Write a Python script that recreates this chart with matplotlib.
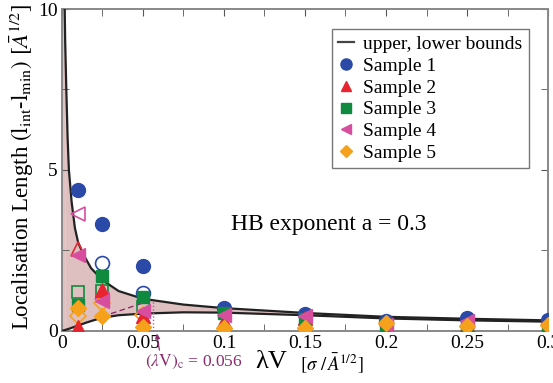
import matplotlib
matplotlib.use("Agg")
import matplotlib.pyplot as plt
from matplotlib.lines import Line2D

plt.rcParams["font.family"] = ["Liberation Serif", "DejaVu Serif"]
plt.rcParams["mathtext.fontset"] = "stix"

# Theoretical bounds on the localisation length
upper_x = [0.0017, 0.002, 0.0027, 0.0035, 0.0043, 0.006, 0.008, 0.01, 0.013,
           0.018, 0.025, 0.035, 0.05, 0.075, 0.1, 0.15, 0.2, 0.25, 0.3]
upper_y = [10.0, 9.0, 7.5, 6.0, 5.0, 4.0, 3.2, 2.75, 2.4,
           1.95, 1.58, 1.24, 1.0, 0.82, 0.71, 0.56, 0.44, 0.38, 0.33]
lower_x = [0.0, 0.005, 0.01, 0.015, 0.02, 0.025, 0.035, 0.05, 0.075,
           0.1, 0.15, 0.2, 0.25, 0.3]
lower_y = [0.0, 0.08, 0.17, 0.26, 0.34, 0.41, 0.49, 0.54, 0.58,
           0.57, 0.49, 0.39, 0.33, 0.29]

# Critical coupling
lv_crit = 0.056
crit_line_x = [0.025, 0.056]
crit_line_y = [0.45, 0.97]

# Samples (filled markers)
lam_v = [0.01, 0.025, 0.05, 0.1, 0.15, 0.2, 0.25, 0.3]
sample1 = [4.38, 3.32, 2.03, 0.70, 0.52, 0.30, 0.40, 0.35]
sample2 = [0.12, 1.28, 0.45, 0.30, 0.40, 0.12, 0.20, 0.15]
sample3 = [0.80, 1.70, 1.05, 0.56, 0.36, 0.15, 0.10, 0.05]
sample4 = [2.36, 0.93, 0.62, 0.50, 0.45, 0.20, 0.30, 0.25]
sample5 = [0.70, 0.47, 0.12, 0.08, 0.08, 0.25, 0.15, 0.20]

# Open markers
open1_x, open1_y = [0.025, 0.05], [2.12, 1.18]
open2_x, open2_y = [0.01], [2.55]
open3_x, open3_y = [0.01, 0.025, 0.05], [1.21, 1.25, 0.75]
open4_x, open4_y = [0.01, 0.025], [3.63, 1.0]
open5_x, open5_y = [0.01, 0.025, 0.05], [0.48, 0.87, 0.50]

labels = ["Sample 1", "Sample 2", "Sample 3", "Sample 4", "Sample 5"]
colors = ["#2b4aa8", "#e8242e", "#108a3e", "#d84e9e", "#f5a11c"]
markers = ["o", "^", "s", "<", "D"]
sizes = [10, 9.5, 8.5, 9.5, 8]

fig = plt.figure(figsize=(5.53, 3.83), dpi=100)
ax = fig.add_axes([0.112, 0.1358, 0.879, 0.8407])

ax.fill_between(upper_x, upper_y, [0] * len(upper_x), color="#dfc0c0", lw=0)
ax.fill_between(lower_x, lower_y, [0] * len(lower_x), color="white", lw=0)
# band between the axis and the first point of the upper bound
ax.fill_between([0.0, 0.0017], [10, 10], [0.0, 0.03], color="#dfc0c0", lw=0)
ax.plot(upper_x, upper_y, color="#222222", lw=1.6, zorder=3)
ax.plot(lower_x, lower_y, color="#222222", lw=1.6, zorder=3)

ax.plot(crit_line_x, crit_line_y, color="#8b2c6c", lw=1.0, ls=(0, (4, 2.5)), zorder=3)
ax.plot([lv_crit, lv_crit], [0, crit_line_y[-1]], color="#b060a0", lw=1.0, ls=(0, (1, 1.5)), zorder=3)

open_sets = [(open1_x, open1_y), (open2_x, open2_y), (open3_x, open3_y),
             (open4_x, open4_y), (open5_x, open5_y)]
for (ox, oy), c, m, s in zip(open_sets, colors, markers, sizes):
    ax.plot(ox, oy, ls="none", marker=m, ms=s, mfc="none", mec=c, mew=1.2, zorder=4)

for ys, c, m, s, lab in zip([sample1, sample2, sample3, sample4, sample5],
                            colors, markers, sizes, labels):
    ax.plot(lam_v, ys, ls="none", marker=m, ms=s, color=c, mec=c, zorder=5, label=lab)

ax.set_xlim(0, 0.3)
ax.set_ylim(0, 10)
ax.set_xticks([0, 0.05, 0.1, 0.15, 0.2, 0.25, 0.3])
ax.set_xticklabels(["0", "0.05", "0.1", "0.15", "0.2", "0.25", "0.3"])
ax.set_xticks([0.025, 0.075, 0.125, 0.175, 0.225, 0.275], minor=True)
ax.set_yticks([0, 5, 10])
ax.set_yticks([2.5, 7.5], minor=True)
ax.tick_params(which="both", direction="in", top=True, right=True,
               color="#555555", labelsize=14, pad=3)
ax.tick_params(which="major", length=5)
ax.tick_params(which="minor", length=5)
for sp in ax.spines.values():
    sp.set_color("#888888")
    sp.set_linewidth(1.4)

handles = [Line2D([], [], color="#444444", lw=1.6, label="upper, lower bounds")]
handles += ax.get_legend_handles_labels()[0]
leg = ax.legend(handles=handles, loc="upper right", bbox_to_anchor=(0.96, 0.937),
                fontsize=14, frameon=True, fancybox=False, handlelength=0.8,
                handletextpad=0.5, labelspacing=0.22, borderpad=0.3, borderaxespad=0,
                markerscale=0.8)
leg.get_frame().set_edgecolor("#555555")
leg.get_frame().set_linewidth(1.0)

ax.text(0.548, 0.33, "HB exponent a = 0.3", transform=ax.transAxes, fontsize=17,
        ha="center", va="center")

ax.annotate(r"$(\lambda\mathrm{V})_{\mathrm{c}}$ = 0.056", xy=(0.0585, -0.08),
            xytext=(0.0815, -0.68), textcoords="data", color="#8b2c6c",
            fontsize=12.5, ha="center", va="top", annotation_clip=False,
            arrowprops=dict(arrowstyle="-|>", color="#8b2c6c", lw=0.9,
                            mutation_scale=7, shrinkA=0, shrinkB=0,
                            relpos=(0.15, 1.0)))

fig.text(0.491, 0.054, "λV", fontsize=19, ha="center", va="center")
fig.text(0.6, 0.052, r"$[\sigma\ /\,\bar{A}^{1/2}]$", fontsize=13.5, ha="center", va="center")

fig.text(0.04, 0.563, r"Localisation Length $(\mathrm{l}_{\mathrm{int}}\text{-}\mathrm{l}_{\mathrm{min}})$ $[\bar{A}^{1/2}]$",
         rotation=90, fontsize=16.5, ha="center", va="center")

fig.savefig("out.png", dpi=100)
